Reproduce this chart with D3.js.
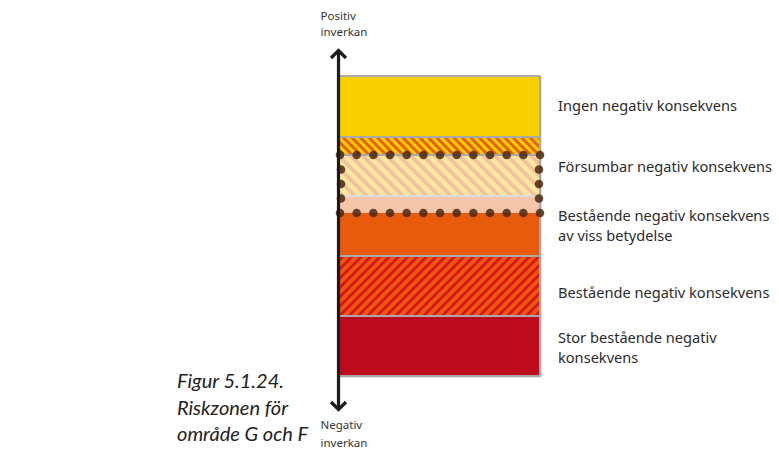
<!DOCTYPE html>
<html><head><meta charset="utf-8">
<script src="https://cdn.jsdelivr.net/npm/d3@7"></script>
<style>body{margin:0;background:#fff} svg{display:block}</style>
</head><body>
<script>
// ---- data ----
const bandNames = ["ingen", "overgang1", "forsumbar", "overgang2", "viss", "bestaende", "stor"];
const bandBounds = [0, 61, 79, 120, 137, 180, 240, 300]; // impact scale, positive -> negative
const zoneRange = [79, 137];                               // dotted risk zone (område G och F)
const labelLines = [
  ["Ingen negativ konsekvens"],
  ["Försumbar negativ konsekvens"],
  ["Bestående negativ konsekvens", "av viss betydelse"],
  ["Bestående negativ konsekvens"],
  ["Stor bestående negativ", "konsekvens"]
];
const labelAnchors = [29.7, 91, 150, 216.5, 272];
const axisTop = ["Positiv", "inverkan"];
const axisBottom = ["Negativ", "inverkan"];
const captionLines = ["Figur 5.1.24.", "Riskzonen för", "område G och F"];

// ---- drawing ----
const W = 779, H = 456;
const svg = d3.select("body").append("svg").attr("width", W).attr("height", H);
const y = d3.scaleLinear().domain([0, 300]).range([76, 376]);
const x0 = 340, x1 = 540;

const defs = svg.append("defs");
function stripes(id, base, stripe, period, stripeW, angle) {
  const p = defs.append("pattern").attr("id", id).attr("patternUnits", "userSpaceOnUse")
    .attr("width", period).attr("height", period).attr("patternTransform", `rotate(${angle})`);
  p.append("rect").attr("width", period).attr("height", period).attr("fill", base);
  p.append("rect").attr("width", stripeW).attr("height", period).attr("fill", stripe);
}
stripes("p1", "#f8d000", "#e8600e", 6, 3, -45);
stripes("p2", "#fce99c", "#f4bfa2", 8.5, 3.8, -45);
stripes("p3", "#e85a0c", "#dd111c", 6.6, 2.8, 45);

const fills = {
  ingen: "#f8d000", overgang1: "url(#p1)", forsumbar: "url(#p2)", overgang2: "#f6c4a8",
  viss: "#e85b0c", bestaende: "url(#p3)", stor: "#bd0a1c"
};
const bands = bandNames.map((n, i) => ({ name: n, a: bandBounds[i], b: bandBounds[i + 1] }));

// subtle shadow frame
svg.append("rect").attr("x", x0).attr("y", y(0)).attr("width", x1 - x0 + 1.5).attr("height", y(300) - y(0) + 1.5)
  .attr("fill", "#c8c8c8");

svg.selectAll("rect.band").data(bands).join("rect").attr("class", "band")
  .attr("x", x0).attr("width", x1 - x0)
  .attr("y", d => y(d.a)).attr("height", d => y(d.b) - y(d.a))
  .attr("fill", d => fills[d.name]);

// separators
const sepColor = { 0: "#a9a9a9", 1: "#a9a9a9", 2: "#a9a9a9", 3: "#dcdcdc", 4: null, 5: "#a9a9a9", 6: "#a9a9a9", 7: "#a9a9a9" };
svg.selectAll("line.sep").data(bandBounds.map((v, i) => ({ v, i })).filter(d => sepColor[d.i]))
  .join("line").attr("class", "sep")
  .attr("x1", x0).attr("x2", x1).attr("y1", d => y(d.v)).attr("y2", d => y(d.v))
  .attr("stroke", d => sepColor[d.i]).attr("stroke-width", 2);
svg.append("line").attr("x1", x1).attr("x2", x1).attr("y1", y(0)).attr("y2", y(300))
  .attr("stroke", "#a9a9a9").attr("stroke-width", 2);

// dotted risk zone
const zy0 = y(zoneRange[0]), zy1 = y(zoneRange[1]);
const nx = 13, ny = 5;
const dots = [];
for (let i = 0; i < nx; i++) {
  const px = x0 + (x1 - x0) * i / (nx - 1);
  dots.push([px, zy0], [px, zy1]);
}
for (let j = 1; j < ny - 1; j++) {
  const py = zy0 + (zy1 - zy0) * j / (ny - 1);
  dots.push([x0 + 1, py], [x1 - 1, py]);
}
svg.selectAll("circle.dot").data(dots).join("circle").attr("class", "dot")
  .attr("cx", d => d[0]).attr("cy", d => d[1]).attr("r", 4.3)
  .attr("fill", "#4a2810").attr("fill-opacity", 0.85);

// vertical arrow
const ax = 338.5;
const aTop = y(0) - 26, aBot = y(300) + 34;
const arrow = svg.append("g").attr("stroke", "#1c1c1c").attr("stroke-width", 3.2).attr("fill", "none")
  .attr("stroke-linecap", "butt");
arrow.append("line").attr("x1", ax).attr("x2", ax).attr("y1", aTop + 1).attr("y2", aBot - 1);
arrow.append("path").attr("d", `M${ax - 7.5},${aTop + 8} L${ax},${aTop + 0.5} L${ax + 7.5},${aTop + 8}`);
arrow.append("path").attr("d", `M${ax - 7.5},${aBot - 8} L${ax},${aBot - 0.5} L${ax + 7.5},${aBot - 8}`);

// axis end labels
const small = { "font-family": "Noto Sans, sans-serif", "font-size": "11.5px", fill: "#333" };
function textBlock(lines, xPos, baseline, lh, style, cls) {
  const t = svg.append("text").attr("class", cls);
  Object.entries(style).forEach(([k, v]) => t.attr(k, v));
  t.selectAll("tspan").data(lines).join("tspan")
    .attr("x", xPos).attr("y", (d, i) => baseline + i * lh).text(d => d);
  return t;
}
textBlock(axisTop, 320.5, 19.5, 16.8, small, "ax");
textBlock(axisBottom, 320.5, 429, 17.5, small, "ax");

// right-hand labels
const lab = { "font-family": "Noto Sans, sans-serif", "font-size": "14.6px", fill: "#2b2b2b" };
const lh = 20;
labelLines.forEach((lines, k) => {
  const c = y(labelAnchors[k]);
  const base = c + 5 - (lines.length - 1) * lh / 2;
  textBlock(lines, 558, base, lh, lab, "lab");
});

// caption
const cap = { "font-family": "Lato, sans-serif", "font-size": "20px", "font-style": "italic", fill: "#222" };
textBlock(captionLines, 177, 388, 26.5, cap, "cap");
</script>
</body></html>
